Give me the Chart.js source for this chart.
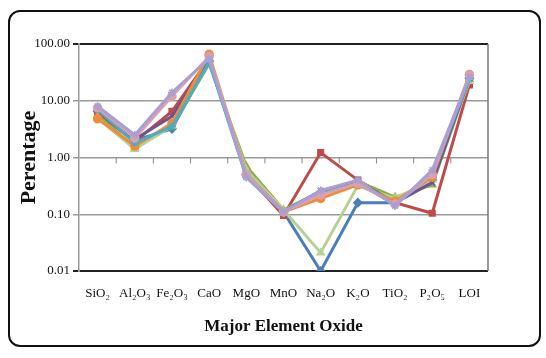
<!DOCTYPE html>
<html><head><meta charset="utf-8">
<script src="https://cdn.jsdelivr.net/npm/chart.js@4"></script>
<style>
html,body{margin:0;padding:0;background:#fff;}
#wrap{position:relative;width:546px;height:358px;}
#frame{position:absolute;left:8px;top:10px;width:533px;height:337px;border:2px solid #111;border-radius:12px;box-sizing:border-box;pointer-events:none;}
canvas{position:absolute;left:0;top:0;}
</style></head>
<body><div id="wrap"><canvas id="c" width="546" height="358"></canvas><div id="frame"></div></div>
<script>
const categories = ['SiO\u2082','Al\u2082O\u2083','Fe\u2082O\u2083','CaO','MgO','MnO','Na\u2082O','K\u2082O','TiO\u2082','P\u2082O\u2085','LOI'];
const yTicks = [0.01, 0.1, 1, 10, 100];
const sBlue     = [6.5, 2.0, 3.2, 50, 0.50, 0.11, 0.010, 0.16, 0.16, 0.40, 25];
const sRed      = [6.0, 1.9, 6.5, 55, 0.50, 0.095, 1.22, 0.40, 0.16, 0.104, 19];
const sGreen    = [5.5, 1.5, 3.5, 45, 0.70, 0.12, 0.25, 0.38, 0.20, 0.33, 24];
const sLtGreen  = [5.0, 1.4, 3.6, 50, 0.60, 0.12, 0.021, 0.32, 0.19, 0.40, 22];
const sPurple   = [6.8, 2.1, 5.3, 55, 0.50, 0.11, 0.26, 0.38, 0.16, 0.36, 25];
const sOrange   = [4.8, 1.6, 4.0, 66, 0.50, 0.11, 0.19, 0.33, 0.17, 0.45, 29];
const sAqua     = [7.0, 1.8, 3.5, 48, 0.45, 0.11, 0.23, 0.35, 0.15, 0.50, 24];
const sPink     = [7.5, 2.2, 12, 60, 0.50, 0.11, 0.22, 0.35, 0.15, 0.50, 28];
const sLavender = [8.0, 2.5, 14, 55, 0.45, 0.11, 0.26, 0.40, 0.14, 0.60, 26];

const seriesList = [
  {d:sBlue, c:'#4A7EBB', p:'rectRot'},
  {d:sRed, c:'#BE4B48', p:'rect'},
  {d:sGreen, c:'#8AB04A', p:'triangle'},
  {d:sLtGreen, c:'#B7D192', p:'triangle'},
  {d:sPurple, c:'#6E5494', p:'crossRot'},
  {d:sOrange, c:'#F08C38', p:'circle'},
  {d:sAqua, c:'#4BACC6', p:'star'},
  {d:sPink, c:'#D9A0B0', p:'circle'},
  {d:sLavender, c:'#A99FD3', p:'star'}
];

const SERIF = "'Liberation Serif', 'Times New Roman', Times, serif";

const frame = {
  id:'frame',
  afterDatasetsDraw(chart){
    const {ctx, chartArea:a, scales:{x,y}} = chart;
    ctx.save();
    ctx.strokeStyle='#777'; ctx.lineWidth=1.5;
    ctx.beginPath(); ctx.moveTo(a.right, a.top); ctx.lineTo(a.right, a.bottom); ctx.stroke();
    const yy = y.getPixelForValue(1);
    ctx.strokeStyle='#888'; ctx.lineWidth=1;
    for(let i=1;i<categories.length;i++){
      const xx = (x.getPixelForValue(i-1)+x.getPixelForValue(i))/2;
      ctx.beginPath(); ctx.moveTo(xx, yy); ctx.lineTo(xx, yy+6); ctx.stroke();
    }
    ctx.restore();
  }
};

Chart.defaults.font.family = SERIF;

new Chart(document.getElementById('c'), {
  type:'line',
  data:{
    labels:categories,
    datasets:seriesList.map((s,i)=>({
      label:'S'+(i+1), data:s.d, borderColor:s.c, backgroundColor:s.c,
      order:seriesList.length - i,
      borderWidth:3, pointStyle:s.p, pointRadius:4, pointBorderWidth:1.5, tension:0
    }))
  },
  options:{
    responsive:false, animation:false,
    layout:{padding:{left:16, right:58, top:44, bottom:17}},
    plugins:{legend:{display:false}, tooltip:{enabled:false}},
    scales:{
      x:{
        offset:true,
        grid:{display:false},
        border:{display:false},
        ticks:{color:'#111', font:{family:SERIF, size:13}, padding:7, maxRotation:0, autoSkip:false},
        title:{display:true, text:'Major Element Oxide', color:'#111', font:{family:SERIF, size:17, weight:'bold'}, padding:{top:8}}
      },
      y:{
        type:'logarithmic', min:0.01, max:100,
        afterBuildTicks(s){ s.ticks = yTicks.map(v=>({value:v})); },
        afterFit(s){ s.width = 63; },
        grid:{color:ctx=> (ctx.tick && (ctx.tick.value===100||ctx.tick.value===0.01)) ? '#222' : '#999',
              lineWidth:ctx=> (ctx.tick && (ctx.tick.value===100||ctx.tick.value===0.01)) ? 2 : 1.5,
              tickLength:6},
        border:{color:'#999', width:1.5},
        ticks:{color:'#111', font:{family:SERIF, size:13}, padding:3, callback:v=>Number(v).toFixed(2)},
        title:{display:true, text:'Perentage', color:'#111', font:{family:SERIF, size:22, weight:'bold'}, padding:{top:0,bottom:0}}
      }
    }
  },
  plugins:[frame]
});
</script>
</body></html>
